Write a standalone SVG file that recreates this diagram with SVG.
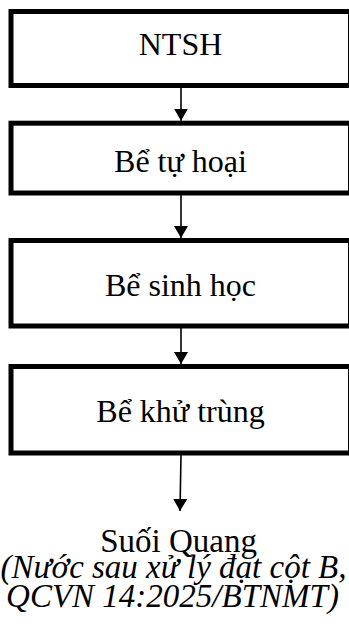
<svg xmlns="http://www.w3.org/2000/svg" width="349" height="639" viewBox="0 0 349 639">
  <style>
    .box { fill: #ffffff; stroke: #000000; stroke-width: 5; }
    .lbl { font-family: "Liberation Serif", "Times New Roman", serif; font-size: 32px; fill: #000000; text-anchor: middle; }
    .out { font-family: "Liberation Serif", "Times New Roman", serif; font-size: 33px; fill: #000000; text-anchor: middle; }
    .it { font-style: italic; }
    .conn { stroke: #000000; stroke-width: 1.6; fill: none; marker-end: url(#arr); }
  </style>
  <defs>
    <marker id="arr" markerUnits="userSpaceOnUse" markerWidth="12" markerHeight="14" refX="12" refY="7" orient="auto" viewBox="0 0 12 14">
      <path d="M0,0 L12,7 L0,14 Z" fill="#000000"/>
    </marker>
  </defs>
  <rect width="349" height="639" fill="#ffffff"/>
  <g id="connectors">
    <line class="conn" x1="181" y1="88" x2="181" y2="120.7"/>
    <line class="conn" x1="181" y1="195" x2="181" y2="238"/>
    <line class="conn" x1="181" y1="328" x2="181" y2="364"/>
    <line class="conn" x1="181" y1="455" x2="180" y2="511"/>
  </g>
  <g id="ntsh">
    <rect class="box" x="11" y="11.5" width="339.5" height="74"/>
    <text class="lbl" x="180.5" y="55">NTSH</text>
  </g>
  <g id="be-tu-hoai">
    <rect class="box" x="11" y="123.2" width="339.5" height="69.8"/>
    <text class="lbl" x="180.5" y="171.7">Bể tự hoại</text>
  </g>
  <g id="be-sinh-hoc">
    <rect class="box" x="11" y="240.5" width="339.5" height="85.5"/>
    <text class="lbl" x="180.5" y="296">Bể sinh học</text>
  </g>
  <g id="be-khu-trung">
    <rect class="box" x="11" y="366.5" width="339.5" height="86.5"/>
    <text class="lbl" x="180.5" y="421.7">Bể khử trùng</text>
  </g>
  <g id="suoi-quang">
    <text class="out" x="178.5" y="551.7">Suối Quang</text>
    <text class="out it" x="173.5" y="578">(Nước sau xử lý đạt cột B,</text>
    <text class="out it" x="172.5" y="607">QCVN 14:2025/BTNMT)</text>
  </g>
</svg>
